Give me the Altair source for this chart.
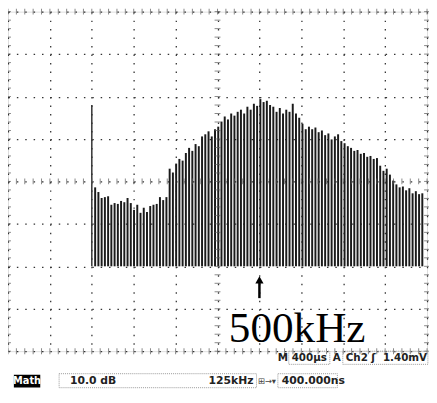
import altair as alt
import pandas as pd

# Spectrum bar levels (screen divisions, 0 = bottom, 8 = top)
levels = [3.86, 3.75, 3.61, 3.63, 3.65, 3.45, 3.49, 3.47, 3.54, 3.51,
          3.61, 3.49, 3.33, 3.45, 3.26, 3.38, 3.28, 3.42, 3.45, 3.47,
          3.63, 3.56, 3.63, 4.30, 4.21, 4.42, 4.53, 4.49, 4.67, 4.79,
          4.72, 4.88, 4.83, 5.06, 5.11, 5.18, 5.06, 5.23, 5.29, 5.41,
          5.53, 5.46, 5.60, 5.55, 5.64, 5.69, 5.60, 5.76, 5.69, 5.83,
          5.78, 5.94, 5.87, 5.90, 5.80, 5.76, 5.64, 5.73, 5.60, 5.69,
          5.64, 5.83, 5.60, 5.50, 5.36, 5.23, 5.29, 5.23, 5.27, 5.16,
          5.20, 5.09, 5.13, 4.99, 5.06, 5.11, 4.95, 4.90, 4.83, 4.79,
          4.72, 4.74, 4.65, 4.67, 4.58, 4.60, 4.53, 4.55, 4.37, 4.25,
          4.30, 4.16, 4.02, 3.93, 3.86, 3.88, 3.79, 3.84, 3.72, 3.77,
          3.70, 3.72]
x_start = 2.08
x_step = 0.0773
baseline = 2.0
marker_x = 2.0
marker_top = 5.8

freq = [round(x_start + i * x_step, 4) for i in range(len(levels))]
df = pd.DataFrame({"f": freq, "level": levels, "base": [baseline] * len(levels)})

xs = alt.Scale(domain=[0, 10], nice=False, zero=False)
ys = alt.Scale(domain=[0, 8], nice=False, zero=False)

xaxis = alt.Axis(values=list(range(11)), labels=False, ticks=False, domain=False,
                 title=None, grid=True, gridDash=[1.5, 7.15], gridColor="#333",
                 gridWidth=1.3)
yaxis = alt.Axis(values=list(range(9)), labels=False, ticks=False, domain=False,
                 title=None, grid=True, gridDash=[1.5, 7.04], gridColor="#333",
                 gridWidth=1.3)

bars = alt.Chart(df).mark_rule(color="#1a1a1a", strokeWidth=2).encode(
    x=alt.X("f:Q", scale=xs, axis=xaxis),
    y=alt.Y("base:Q", scale=ys, axis=yaxis),
    y2="level:Q",
)

marker = alt.Chart(pd.DataFrame({"x": [marker_x], "y": [baseline], "y2": [marker_top]})).mark_rule(
    color="#333", strokeWidth=1.5).encode(
    x=alt.X("x:Q", scale=xs), y=alt.Y("y:Q", scale=ys), y2="y2:Q")

# minor ticks on centre lines and border
minor_x = [i / 5 for i in range(51)]
minor_y = [i / 5 for i in range(41)]
hticks = pd.DataFrame({"x": [5] * len(minor_y) + [0] * len(minor_y) + [10] * len(minor_y),
                       "y": minor_y * 3})
vticks = pd.DataFrame({"x": minor_x * 3,
                       "y": [4] * len(minor_x) + [0] * len(minor_x) + [8] * len(minor_x)})
ht = alt.Chart(hticks).mark_tick(orient="horizontal", size=6, thickness=1, color="#555").encode(
    x=alt.X("x:Q", scale=xs), y=alt.Y("y:Q", scale=ys))
vt = alt.Chart(vticks).mark_tick(orient="vertical", size=6, thickness=1, color="#555").encode(
    x=alt.X("x:Q", scale=xs), y=alt.Y("y:Q", scale=ys))

# arrow + 500kHz label
arrow_x = 6.0
shaft = alt.Chart(pd.DataFrame({"x": [arrow_x], "y": [1.25], "y2": [1.62]})).mark_rule(
    color="black", strokeWidth=2.5).encode(x=alt.X("x:Q", scale=xs), y=alt.Y("y:Q", scale=ys), y2="y2:Q")
head = alt.Chart(pd.DataFrame({"x": [arrow_x], "y": [1.68]})).mark_point(
    shape="triangle-up", size=70, filled=True, color="black", opacity=1).encode(
    x=alt.X("x:Q", scale=xs), y=alt.Y("y:Q", scale=ys))
big = alt.Chart(pd.DataFrame({"x": [5.27], "y": [0.21], "t": ["500kHz"]})).mark_text(
    font="Liberation Serif", fontSize=44, align="left", baseline="alphabetic", color="black").encode(
    x=alt.X("x:Q", scale=xs), y=alt.Y("y:Q", scale=ys), text="t:N")

# status rows below the graticule
row1 = -0.165
row2 = -0.70
boxes = pd.DataFrame({
    "x": [6.70, 7.99, 1.22, 6.44],
    "x2": [7.68, 10.02, 5.93, 7.86],
    "y": [0.0, 0.0, -0.53, -0.53],
    "y2": [-0.31, -0.31, -0.86, -0.86],
})
box = alt.Chart(boxes).mark_rect(fill=None, stroke="#999", strokeWidth=1, strokeDash=[1, 1]).encode(
    x=alt.X("x:Q", scale=xs), x2="x2:Q", y=alt.Y("y:Q", scale=ys), y2="y2:Q")
mathbg = alt.Chart(pd.DataFrame({"x": [0.14], "x2": [0.77], "y": [-0.555], "y2": [-0.856]})).mark_rect(
    color="black").encode(x=alt.X("x:Q", scale=xs), x2="x2:Q", y=alt.Y("y:Q", scale=ys), y2="y2:Q")

row1_l = pd.DataFrame({
    "x": [6.44, 6.77, 7.75, 8.06, 8.67],
    "y": [row1] * 5,
    "t": ["M", "400µs", "A", "Ch2", "ʃ"],
})
row2_l = pd.DataFrame({
    "x": [1.48, 6.53],
    "y": [row2] * 2,
    "t": ["10.0 dB", "400.000ns"],
})
t1 = alt.Chart(row1_l).mark_text(font="DejaVu Sans", fontSize=10.5, fontWeight="bold",
                                 align="left", baseline="middle", color="#222").encode(
    x=alt.X("x:Q", scale=xs), y=alt.Y("y:Q", scale=ys), text="t:N")
t1r = alt.Chart(pd.DataFrame({"x": [10.0], "y": [row1], "t": ["1.40mV"]})).mark_text(
    font="DejaVu Sans", fontSize=10.5, fontWeight="bold", align="right", baseline="middle",
    color="#222").encode(x=alt.X("x:Q", scale=xs), y=alt.Y("y:Q", scale=ys), text="t:N")
t2 = alt.Chart(row2_l).mark_text(font="DejaVu Sans", fontSize=11, fontWeight="bold",
                                 align="left", baseline="middle", color="#222").encode(
    x=alt.X("x:Q", scale=xs), y=alt.Y("y:Q", scale=ys), text="t:N")
icon = alt.Chart(pd.DataFrame({"x": [5.96], "y": [row2], "t": ["⊞→▾"]})).mark_text(
    font="DejaVu Sans", fontSize=8.5, align="left", baseline="middle", color="#444").encode(
    x=alt.X("x:Q", scale=xs), y=alt.Y("y:Q", scale=ys), text="t:N")
t2r = alt.Chart(pd.DataFrame({"x": [5.86], "y": [row2], "t": ["125kHz"]})).mark_text(
    font="DejaVu Sans", fontSize=11, fontWeight="bold", align="right", baseline="middle",
    color="#222").encode(x=alt.X("x:Q", scale=xs), y=alt.Y("y:Q", scale=ys), text="t:N")
mtxt = alt.Chart(pd.DataFrame({"x": [0.455], "y": [-0.705], "t": ["Math"]})).mark_text(
    font="DejaVu Sans", fontSize=10, fontWeight="bold", align="center", baseline="middle",
    color="white").encode(x=alt.X("x:Q", scale=xs), y=alt.Y("y:Q", scale=ys), text="t:N")

chart = alt.layer(marker, bars, ht, vt, shaft, head, big, box, mathbg, t1, t1r, t2, icon, t2r, mtxt).properties(
    width=427, height=346, autosize="none",
    padding={"left": 0, "top": 0, "right": 2, "bottom": 45},
).configure_view(stroke="#222", strokeWidth=2.5).configure(background="white")

chart.save("out.html", embed_options={"renderer": "svg", "actions": False})
